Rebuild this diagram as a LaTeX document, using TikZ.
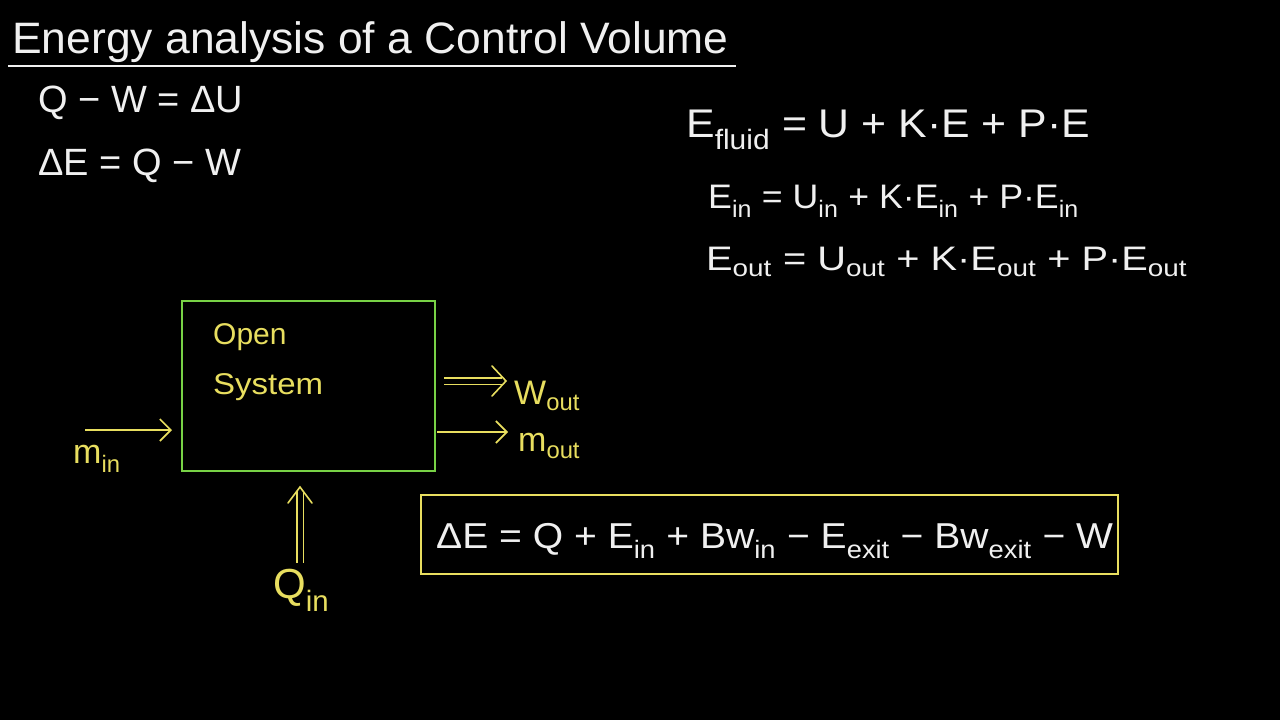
\documentclass[tikz,border=0pt]{standalone}
\usepackage{fontspec}
\setmainfont{Liberation Sans}
\usetikzlibrary{arrows.meta,calc}
\definecolor{chalk}{RGB}{240,240,240}
\definecolor{ylw}{RGB}{232,222,95}
\definecolor{grn}{RGB}{120,210,70}
\tikzset{
  wtxt/.style={text=chalk, inner sep=0pt, anchor=west},
  ytxt/.style={text=ylw, inner sep=0pt, anchor=west},
  flow/.style={draw=ylw, line width=1.6pt, -{Straight Barb[length=11pt,width=22pt,line width=1.6pt]}},
  dline/.style={draw=ylw, line width=1.6pt, double=black, double distance=5pt, shorten >=4pt},
  chev/.style={draw=ylw, line width=1.6pt, line join=miter, line cap=round},
}
\newcommand{\sz}[1]{\fontsize{#1}{#1}\selectfont}
\newcommand{\sx}[2]{\scalebox{#1}[1]{#2}}
\begin{document}
\begin{tikzpicture}[x=1pt,y=-1pt]
\fill[black] (0,0) rectangle (1280,720);
\useasboundingbox (0,0) rectangle (1280,720);

% title
\node[wtxt] (title) at (12,42) {\sz{44}\sx{1.01}{Energy analysis of a Control Volume}};
\coordinate (ulA) at (8,66);
\coordinate (ulB) at (736,66);
\draw[chalk, line width=1.8pt] (ulA) -- (ulB);

\node[wtxt] (eq1) at (38,103) {\sz{38}Q − W = ΔU};
\node[wtxt] (eq2) at (38,166) {\sz{38}ΔE = Q − W};

\node[wtxt] (ef) at (686,130) {\sz{40}\sx{1.07}{E\textsubscript{fluid} = U + K·E + P·E}};
\node[wtxt] (ein) at (708,201) {\sz{34}\sx{1.05}{E\textsubscript{in} = U\textsubscript{in} + K·E\textsubscript{in} + P·E\textsubscript{in}}};
\node[wtxt] (eout) at (706,262) {\sz{34}\sx{1.17}{E\textsubscript{out} = U\textsubscript{out} + K·E\textsubscript{out} + P·E\textsubscript{out}}};

% open system
\node[draw=grn, line width=2pt, minimum width=253pt, minimum height=170pt, inner sep=0pt, anchor=north west] (sys) at (181,300) {};
\node[ytxt] (open) at (213,337) {\sz{30}Open};
\node[ytxt] (system) at (213,387) {\sz{30}\sx{1.1}{System}};

% m_in
\coordinate (minA) at (85,430);
\coordinate (minB) at (172,430);
\draw[flow] (minA) -- (minB);
\node[ytxt] (min) at (73,459) {\sz{34}m\textsubscript{in}};

% W_out
\coordinate (woA) at (444,381);
\coordinate (woB) at (506,381);
\draw[dline] (woA) -- (woB);
\draw[chev] ($(woB)+(-14,-15)$) -- (woB) -- ($(woB)+(-14,15)$);
\node[ytxt] (wout) at (514,396) {\sz{34}W\textsubscript{out}};

% m_out
\coordinate (moA) at (437,432);
\coordinate (moB) at (508,432);
\draw[flow] (moA) -- (moB);
\node[ytxt] (mout) at (518,446) {\sz{34}m\textsubscript{out}};

% Q_in
\coordinate (qA) at (300,563);
\coordinate (qB) at (300,487);
\draw[dline] (qA) -- (qB);
\draw[chev] ($(qB)+(-12,16)$) -- (qB) -- ($(qB)+(12,16)$);
\node[ytxt] (qin) at (273,590) {\sz{42}Q\textsubscript{in}};

% energy balance box
\node[draw=ylw, line width=2pt, minimum width=697pt, minimum height=79pt, inner sep=0pt, anchor=north west] (bal) at (420,494) {};
\node[wtxt] (baltext) at (436,541) {\sz{36}\sx{1.085}{ΔE = Q + E\textsubscript{in} + Bw\textsubscript{in} − E\textsubscript{exit} − Bw\textsubscript{exit} − W}};
\end{tikzpicture}
\end{document}
